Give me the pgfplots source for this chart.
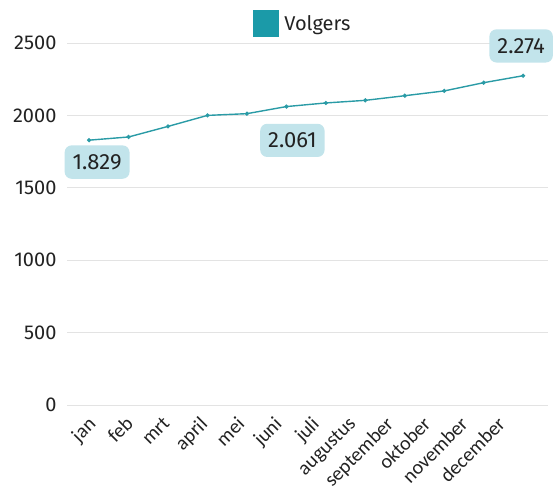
\documentclass[border=0pt]{standalone}
\usepackage{pgfplots}
\pgfplotsset{compat=1.18}
\usepackage{fontspec}
\setmainfont{Fira Sans}
\newfontfamily\tickfont{Carlito}
\definecolor{lineteal}{HTML}{2A9BA6}
\definecolor{legteal}{HTML}{1B9AA8}
\definecolor{boxblue}{HTML}{C2E4EB}
\definecolor{txt}{HTML}{222222}
\definecolor{gridc}{HTML}{E3E3E3}
\begin{document}
\begin{tikzpicture}
% fixed page frame around the plot area
\useasboundingbox (-67pt,-94pt) rectangle (486pt,405pt);
\begin{axis}[
  at={(0pt,0pt)}, anchor=south west,
  scale only axis,
  width=481pt, height=362pt,
  xmin=-0.56, xmax=11.63,
  ymin=0, ymax=2500,
  clip=false,
  axis line style={draw=none},
  tick style={draw=none},
  ytick={0,500,1000,1500,2000,2500},
  ymajorgrids,
  grid style={gridc, line width=0.8pt},
  y tick label style={font=\fontsize{20}{24}\selectfont, text=txt, xshift=-7pt},
  /pgf/number format/assume math mode=true,
  /pgf/number format/1000 sep={},
  % month labels sit slightly tighter than the data points
  xtick={-0.10,0.843,1.786,2.729,3.672,4.615,5.558,6.501,7.444,8.387,9.33,10.273},
  xticklabels={jan,feb,mrt,april,mei,juni,juli,augustus,september,oktober,november,december},
  x tick label style={font=\tickfont\fontsize{20}{24}\selectfont, text=txt, anchor=north east, inner sep=1pt, yshift=-9pt, xshift=2pt, rotate=45},
  legend style={at={(0.49,1.0)}, anchor=south, yshift=4pt, draw=none, fill=none,
    font=\fontsize{20}{24}\selectfont, text=txt},
  legend image code/.code={\fill[legteal] (0pt,-12pt) rectangle (25pt,13pt);},
  legend cell align=left,
]
\addplot[lineteal, line width=1.4pt, mark=*, mark size=1.3pt, mark options={fill=lineteal, draw=lineteal}]
  coordinates {
    (0,1829) (1,1851) (2,1924) (3,2000) (4,2012) (5,2061)
    (6,2086) (7,2104) (8,2136) (9,2169) (10,2226) (11,2274)
  };
\addlegendentry{\hspace{3pt}Volgers}
\tikzset{vlabel/.style={fill=boxblue, rounded corners=7pt, text=txt,
  font=\fontsize{22}{26}\selectfont, inner xsep=8pt, inner ysep=9pt}}
\node[vlabel, anchor=north, xshift=8pt, yshift=-5pt] at (axis cs:0,1829) {1.829};
\node[vlabel, anchor=north, xshift=6pt, yshift=-17pt] at (axis cs:5,2061) {2.061};
\node[vlabel, anchor=south, xshift=-2pt, yshift=13pt] at (axis cs:11,2274) {2.274};
\end{axis}
\end{tikzpicture}
\end{document}
